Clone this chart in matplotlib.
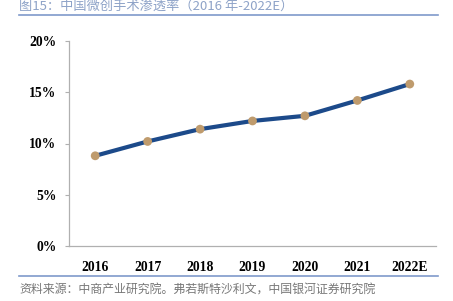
import matplotlib.pyplot as plt
from matplotlib.lines import Line2D
from matplotlib.ticker import FuncFormatter

plt.rcParams['font.family'] = ['Liberation Serif', 'Noto Sans CJK SC']

# 数据
years = ['2016', '2017', '2018', '2019', '2020', '2021', '2022E']
rate = [8.8, 10.2, 11.4, 12.2, 12.7, 14.2, 15.8]
yticks = [0, 5, 10, 15, 20]

fig = plt.figure(figsize=(4.53, 3.01), dpi=100)
ax = fig.add_axes([69 / 453, 1 - 246 / 301, 367 / 453, 205 / 301])

x = range(len(years))
ax.plot(x, rate, color='#1c4a8a', lw=3, zorder=2)
ax.scatter(x, rate, s=40, color='#bf9b6d', zorder=3, edgecolors='none')

ax.set_xlim(-0.5, len(years) - 0.5)
ax.set_ylim(0, 20)
ax.set_yticks(yticks)
ax.yaxis.set_major_formatter(FuncFormatter(lambda v, p: f'{v:.0f}%'))
ax.set_xticks(list(x))
ax.set_xticklabels(years)
for lab in ax.get_xticklabels() + ax.get_yticklabels():
    lab.set_fontweight('bold')
    lab.set_fontsize(9.8)
ax.tick_params(axis='x', length=0, pad=11)
ax.tick_params(axis='y', length=3, color='#b0b0b0', pad=6)

for s in ['top', 'right']:
    ax.spines[s].set_visible(False)
for s in ['left', 'bottom']:
    ax.spines[s].set_color('#b0b0b0')
    ax.spines[s].set_linewidth(0.9)

# 标题和来源
fig.text(19 / 453, 1 - 6.5 / 301, '图15：中国微创手术渗透率（2016 年-2022E）',
         family=['Noto Sans CJK SC'], fontsize=9.5, color='#8ea3c8', va='center')
fig.add_artist(Line2D([19 / 453, 438 / 453], [1 - 15 / 301, 1 - 15 / 301],
                      color='#7f9acb', lw=1.2))
fig.add_artist(Line2D([19 / 453, 438 / 453], [1 - 276 / 301, 1 - 276 / 301],
                      color='#7f9acb', lw=1.2))
fig.text(19 / 453, 1 - 289 / 301, '资料来源：中商产业研究院。弗若斯特沙利文，中国银河证券研究院',
         family=['Noto Sans CJK SC'], fontsize=8.6, color='#777777',
         va='center', style='italic')

fig.savefig('out.png', dpi=100)
